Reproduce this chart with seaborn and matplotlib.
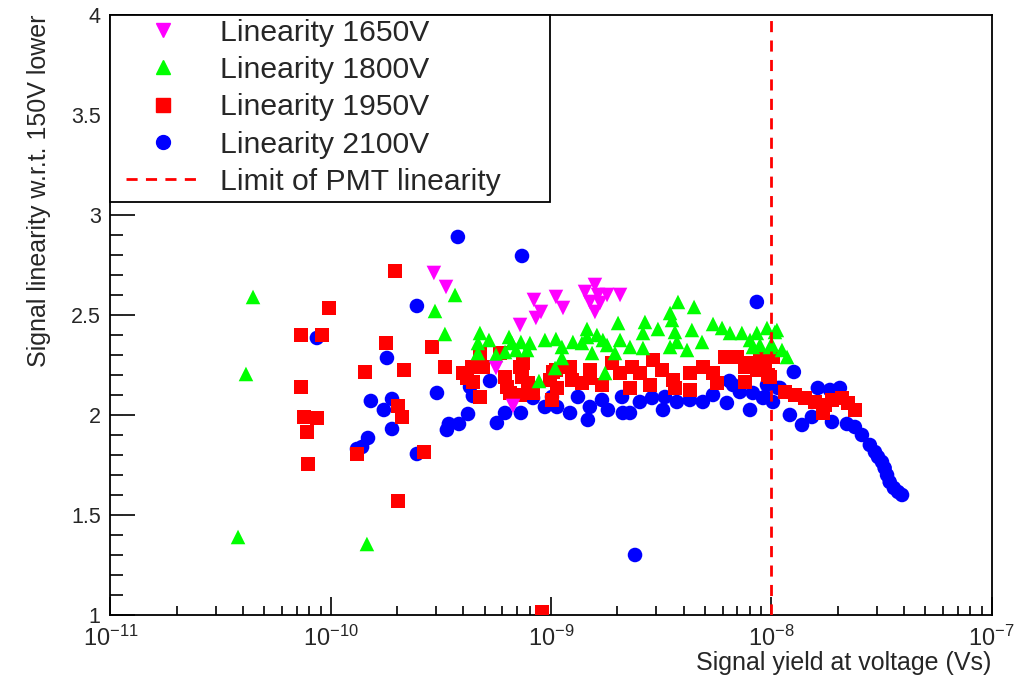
import numpy as np
import pandas as pd
import matplotlib
matplotlib.use("Agg")
import matplotlib.pyplot as plt
import seaborn as sns
from matplotlib.lines import Line2D
from matplotlib.patches import Rectangle
from matplotlib.ticker import LogLocator, LogFormatterSciNotation, MultipleLocator, FuncFormatter

# ---- data: log10(signal yield [Vs]) and linearity ----
logx_1650 = [-9.532, -9.477, -9.250, -9.173, -9.141, -9.078, -9.069, -9.046, -8.978, -8.946,
             -8.846, -8.824, -8.801, -8.801, -8.787, -8.778, -8.746, -8.687]
y_1650 = [2.71, 2.64, 2.235, 2.045, 2.45, 2.575, 2.485, 2.515, 2.59, 2.535,
          2.615, 2.565, 2.65, 2.515, 2.60, 2.56, 2.60, 2.60]

logx_1800 = [-10.421, -10.385, -10.353, -9.836, -9.527, -9.482, -9.436, -9.323, -9.332, -9.282,
             -9.332, -9.250, -9.191, -9.178, -9.209, -9.137, -9.096, -9.028, -8.978, -9.159,
             -9.109, -8.982, -9.055, -8.951, -8.951, -8.901, -8.860, -8.837, -8.837, -8.792,
             -8.814, -8.765, -8.746, -8.696, -8.687, -8.710, -8.755, -8.642, -8.574, -8.583,
             -8.583, -8.515, -8.460, -8.451, -8.424, -8.351, -8.438, -8.429, -8.460, -8.383,
             -8.361, -8.315, -8.265, -8.224, -8.188, -8.134, -8.097, -8.066, -8.020, -8.052,
             -7.984, -8.007, -7.975, -8.084, -7.997, -7.952, -7.929]
y_1800 = [1.39, 2.205, 2.59, 1.355, 2.52, 2.405, 2.60, 2.41, 2.36, 2.375,
          2.31, 2.30, 2.39, 2.36, 2.315, 2.365, 2.36, 2.375, 2.38, 2.325,
          2.325, 2.235, 2.17, 2.34, 2.285, 2.365, 2.36, 2.43, 2.39, 2.40,
          2.31, 2.375, 2.35, 2.46, 2.375, 2.31, 2.21, 2.34, 2.465, 2.41,
          2.335, 2.43, 2.51, 2.475, 2.565, 2.54, 2.415, 2.365, 2.34, 2.325,
          2.425, 2.365, 2.455, 2.435, 2.41, 2.41, 2.375, 2.41, 2.435, 2.35,
          2.415, 2.34, 2.425, 2.34, 2.35, 2.325, 2.29]

logx_1950 = [-10.135, -10.040, -10.008, -10.135, -10.122, -10.063, -10.108, -10.104, -9.709, -9.749,
             -9.845, -9.668, -9.541, -9.482, -9.695, -9.677, -9.577, -9.881, -9.695, -9.041,
             -9.400, -9.382, -9.355, -9.359, -9.323, -9.309, -9.323, -9.232, -9.209, -9.200,
             -9.187, -9.141, -9.128, -9.132, -9.105, -9.141, -9.082, -9.096, -8.996, -8.992,
             -8.973, -9.005, -8.978, -8.914, -8.905, -8.860, -8.824, -8.824, -8.769, -8.724,
             -8.687, -8.642, -8.633, -8.597, -8.551, -8.538, -8.497, -8.447, -8.438, -8.370,
             -8.370, -8.311, -8.265, -8.247, -8.211, -8.156, -8.120, -8.120, -8.066, -8.043,
             -8.007, -8.029, -8.097, -8.052, -8.016, -7.993, -7.938, -7.893, -7.848, -7.802,
             -7.757, -7.725, -7.680, -7.652, -7.621, -7.766]
y_1950 = [2.40, 2.40, 2.535, 2.14, 1.99, 1.985, 1.915, 1.755, 2.72, 2.36,
          2.215, 2.225, 2.34, 2.24, 2.045, 1.99, 1.815, 1.805, 1.57, 1.015,
          2.21, 2.185, 2.165, 2.24, 2.31, 2.24, 2.09, 2.31, 2.19, 2.14,
          2.11, 2.24, 2.26, 2.19, 2.16, 2.10, 2.11, 2.135, 2.075, 2.215,
          2.135, 2.175, 2.225, 2.24, 2.175, 2.16, 2.225, 2.185, 2.15, 2.26,
          2.21, 2.135, 2.24, 2.21, 2.15, 2.275, 2.225, 2.175, 2.135, 2.125,
          2.21, 2.24, 2.21, 2.16, 2.29, 2.29, 2.24, 2.165, 2.225, 2.29,
          2.19, 2.24, 2.26, 2.275, 2.20, 2.29, 2.115, 2.10, 2.085, 2.065,
          2.05, 2.075, 2.085, 2.06, 2.025, 2.01]

logx_2100 = [-10.063, -9.423, -9.132, -9.609, -9.745, -9.518, -9.818, -9.759, -9.722, -9.722,
             -9.831, -9.858, -9.881, -9.609, -9.473, -9.464, -9.418, -9.377, -9.246, -9.209,
             -9.137, -9.277, -9.368, -9.355, -9.082, -9.028, -8.996, -8.973, -8.914, -8.878,
             -8.833, -8.824, -8.769, -8.742, -8.678, -8.674, -8.642, -8.597, -8.542, -8.492,
             -8.483, -8.429, -8.370, -8.311, -8.265, -8.202, -8.174, -8.143, -8.097, -8.084,
             -8.038, -7.993, -7.970, -8.029, -8.066, -7.898, -7.916, -7.861, -7.816, -7.789,
             -7.734, -7.689, -7.725, -7.657, -7.621, -7.589, -7.553, -7.530, -7.516, -7.498,
             -7.486, -7.475, -7.463, -7.444, -7.425, -7.407, -8.619, -7.961, -8.190, -8.020]
y_2100 = [2.385, 2.89, 2.795, 2.545, 2.285, 2.11, 2.07, 2.025, 2.08, 1.93,
          1.885, 1.84, 1.83, 1.805, 1.925, 1.955, 1.955, 2.005, 1.96, 2.01,
          2.01, 2.17, 2.14, 2.095, 2.085, 2.04, 2.09, 2.04, 2.01, 2.09,
          1.975, 2.04, 2.075, 2.025, 2.09, 2.01, 2.01, 2.065, 2.085, 2.025,
          2.09, 2.065, 2.075, 2.065, 2.10, 2.06, 2.15, 2.115, 2.025, 2.11,
          2.085, 2.065, 2.135, 2.09, 2.565, 2.215, 2.00, 1.95, 1.99, 2.135,
          2.125, 2.135, 1.965, 1.955, 1.94, 1.90, 1.85, 1.815, 1.79, 1.765,
          1.735, 1.70, 1.665, 1.635, 1.615, 1.60, 1.30, 2.135, 2.17, 2.15]

series = ["Linearity 2100V", "Linearity 1950V", "Linearity 1800V", "Linearity 1650V"]
limit_x = 1e-8

colors = {"Linearity 1650V": "#ff00ff", "Linearity 1800V": "#00ff00",
          "Linearity 1950V": "#ff0000", "Linearity 2100V": "#0000ff"}
markers = {"Linearity 1650V": "v", "Linearity 1800V": "^",
           "Linearity 1950V": "s", "Linearity 2100V": "o"}

frames = []
for name, lx, yy in [("Linearity 2100V", logx_2100, y_2100),
                     ("Linearity 1950V", logx_1950, y_1950),
                     ("Linearity 1800V", logx_1800, y_1800),
                     ("Linearity 1650V", logx_1650, y_1650)]:
    frames.append(pd.DataFrame({"x": 10.0 ** np.array(lx), "y": yy, "series": name}))
df = pd.concat(frames, ignore_index=True)

sns.set_theme(style="white")
plt.rcParams['font.family'] = ['Liberation Sans', 'DejaVu Sans']
plt.rcParams['mathtext.fontset'] = 'custom'
plt.rcParams['mathtext.rm'] = 'Liberation Sans'
plt.rcParams['mathtext.it'] = 'Liberation Sans:italic'
plt.rcParams['mathtext.default'] = 'regular'

fig = plt.figure(figsize=(10.21, 6.80), dpi=100)
ax = fig.add_axes([0.1082, 0.0956, 0.8631, 0.8824])

sns.scatterplot(data=df, x="x", y="y", hue="series", style="series",
                palette=colors, markers=markers, s=110, linewidth=0,
                legend=False, ax=ax, zorder=3)

ax.axvline(limit_x, color="#ff0000", lw=2.0, ls=(0, (4, 3)), zorder=4)

ax.set_xscale("log")
ax.set_xlim(1e-11, 1e-7)
ax.set_ylim(1, 4)

ax.xaxis.set_major_locator(LogLocator(base=10, numticks=10))
ax.xaxis.set_minor_locator(LogLocator(base=10, subs=np.arange(2, 10), numticks=20))
ax.xaxis.set_major_formatter(LogFormatterSciNotation())
ax.yaxis.set_major_locator(MultipleLocator(0.5))
ax.yaxis.set_minor_locator(MultipleLocator(0.1))
ax.yaxis.set_major_formatter(FuncFormatter(lambda v, p: "%g" % v))

ax.tick_params(axis="both", which="both", direction="in", top=False, right=False,
               bottom=True, left=True, color="black", width=1.2)
ax.tick_params(axis="x", which="major", length=13, pad=8, labelsize=17)
ax.tick_params(axis="x", which="minor", length=6.5)
ax.tick_params(axis="y", which="major", length=18, pad=7, labelsize=15.5)
ax.tick_params(axis="y", which="minor", length=9)
for sp in ax.spines.values():
    sp.set_color("black")
    sp.set_linewidth(1.3)

ax.set_xlabel("Signal yield at voltage (Vs)", fontsize=18, loc="right")
ax.set_ylabel("Signal linearity w.r.t. 150V lower", fontsize=18, loc="top")
ax.xaxis.set_label_coords(1.0, -0.06)
ax.yaxis.set_label_coords(-0.068, 1.0)

# legend box
rect = Rectangle((0, 0.688), 0.499, 0.312, transform=ax.transAxes, facecolor="white",
                 edgecolor="black", lw=1.3, zorder=5, clip_on=False)
ax.add_patch(rect)
handles = [Line2D([], [], ls="none", marker=markers[n], color=colors[n], ms=10)
           for n in ["Linearity 1650V", "Linearity 1800V", "Linearity 1950V", "Linearity 2100V"]]
handles.append(Line2D([], [], color="#ff0000", lw=2.0, ls=(0, (4, 3))))
labels = ["Linearity 1650V", "Linearity 1800V", "Linearity 1950V", "Linearity 2100V",
          "Limit of PMT linearity"]
leg = ax.legend(handles, labels, loc="upper left", bbox_to_anchor=(0.014, 1.0),
                frameon=False, fontsize=21.7, handlelength=2.42, handletextpad=0.7,
                labelspacing=0.31, borderpad=0.12, borderaxespad=0)
leg.set_zorder(6)

fig.savefig("out.png", dpi=100)
